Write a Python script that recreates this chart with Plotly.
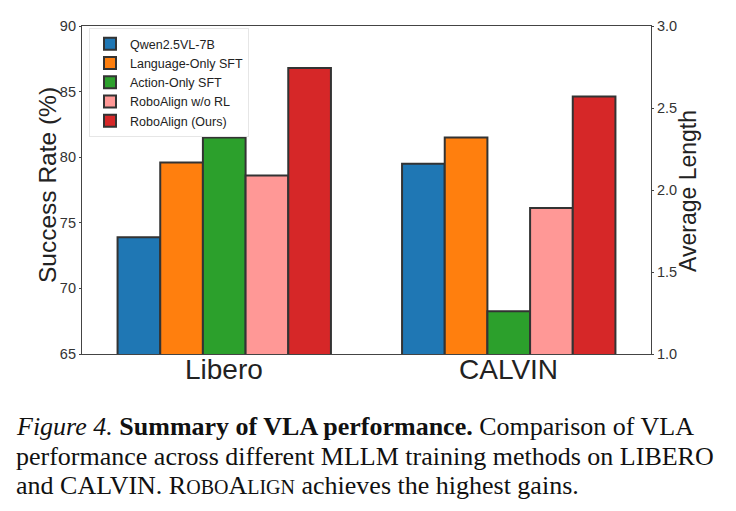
import plotly.graph_objects as go

categories = ["Libero", "CALVIN"]
methods = ["Qwen2.5VL-7B", "Language-Only SFT", "Action-Only SFT", "RoboAlign w/o RL", "RoboAlign (Ours)"]
colors = ["#1f77b4", "#ff7f0e", "#2ca02c", "#ff9896", "#d62728"]
libero_success = [73.9, 79.6, 81.5, 78.6, 86.8]
calvin_avg_len = [2.16, 2.32, 1.26, 1.89, 2.57]
left_ticks = [65, 70, 75, 80, 85, 90]
right_ticks = [1.0, 1.5, 2.0, 2.5, 3.0]

W, H = 736, 511
L, R, T, B = 82, 651, 26, 354

fig = go.Figure()
bw = 0.15
n = len(methods)
for i, (m, c) in enumerate(zip(methods, colors)):
    off = -bw * n / 2 + i * bw
    fig.add_trace(go.Bar(
        x=[categories[0]], y=[libero_success[i]], name=m, marker_color=c,
        marker_line_color="#333333", marker_line_width=2,
        width=bw, offset=off, legendgroup=m, showlegend=True, yaxis="y",
    ))
    fig.add_trace(go.Bar(
        x=[categories[1]], y=[calvin_avg_len[i]], name=m, marker_color=c,
        marker_line_color="#333333", marker_line_width=2,
        width=bw, offset=off, legendgroup=m, showlegend=False, yaxis="y2",
    ))

ph = B - T
def py(pix):
    return (B - pix) / ph
def px(pix):
    return (pix - L) / (R - L)

annotations = []
for cat in categories:
    annotations.append(dict(text=cat, xref="x", yref="paper", x=cat, y=py(369),
                            xanchor="center", yanchor="middle", showarrow=False,
                            font=dict(family="Liberation Sans", size=28, color="#222222")))

# axis titles
annotations.append(dict(text="Success Rate (%)", xref="paper", yref="paper", x=px(47), y=py(185),
                        xanchor="center", yanchor="middle", textangle=-90, showarrow=False,
                        font=dict(family="Liberation Sans", size=24.5, color="#222222")))
annotations.append(dict(text="Average Length", xref="paper", yref="paper", x=px(688), y=py(191),
                        xanchor="center", yanchor="middle", textangle=-90, showarrow=False,
                        font=dict(family="Liberation Sans", size=23, color="#222222")))

cap_font = dict(family="Liberation Serif", size=26, color="#111111")
sc = 'style="font-size:20px"'
captions = [
    ("<i>Figure 4.</i> <b>Summary of VLA performance.</b> Comparison of VLA", 426),
    ("performance across different MLLM training methods on LIBERO", 456),
    (f"and CALVIN. R<span {sc}>OBO</span>A<span {sc}>LIGN</span> achieves the highest gains.", 485),
]
for txt, yc in captions:
    annotations.append(dict(text=txt, xref="paper", yref="paper", x=px(14), y=py(yc),
                            xanchor="left", yanchor="middle", showarrow=False, font=cap_font))

fig.update_layout(
    width=W, height=H,
    margin=dict(l=L, r=W - R, t=T, b=H - B, pad=0),
    paper_bgcolor="white", plot_bgcolor="white",
    barmode="overlay",
    font=dict(family="Liberation Sans", color="#333333"),
    xaxis=dict(
        type="category", categoryorder="array", categoryarray=categories,
        range=[-0.5, 1.5], showgrid=False, showline=True, linecolor="#444444",
        linewidth=1.2, mirror=True, ticks="", showticklabels=False,
    ),
    yaxis=dict(
        range=[65, 90], tickvals=left_ticks, showgrid=False, zeroline=False,
        showline=True, linecolor="#444444", linewidth=1.2, ticks="outside",
        ticklen=2, tickcolor="#444444", tickfont=dict(size=14.5, color="#333333"),
    ),
    yaxis2=dict(
        range=[1.0, 3.0], tickvals=right_ticks, tickformat=".1f", overlaying="y",
        side="right", showgrid=False, zeroline=False, showline=True,
        linecolor="#444444", linewidth=1.2, ticks="outside", ticklen=2,
        tickcolor="#444444", tickfont=dict(size=14.5, color="#333333"),
    ),
    legend=dict(
        x=px(89), y=py(28), xanchor="left", yanchor="top",
        bgcolor="rgba(255,255,255,0.85)", bordercolor="#e6e6e6", borderwidth=1,
        font=dict(size=12.5, color="#222222"), itemwidth=30, tracegroupgap=0,
    ),
    annotations=annotations,
)

fig.write_html("out.html")
